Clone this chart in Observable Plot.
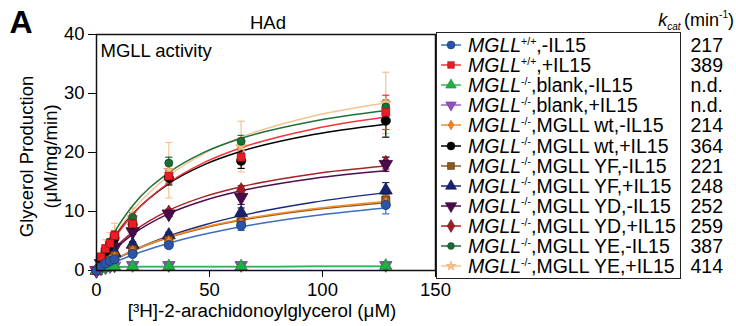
<!DOCTYPE html>
<html><head><meta charset="utf-8">
<script src="https://cdn.jsdelivr.net/npm/d3@7"></script>
<script src="https://cdn.jsdelivr.net/npm/@observablehq/plot@0.6"></script>
<style>
body{margin:0;background:#fff;}
#wrap{position:relative;width:736px;height:326px;font-family:"Liberation Sans",Arial,sans-serif;color:#000;overflow:hidden;background:#fff}
#wrap svg.plot{position:absolute;left:0;top:0}
.t{position:absolute;white-space:nowrap;font-size:19.5px;line-height:20px;height:20px}
.t i{font-style:italic}
.sup{font-size:10.5px;position:relative;top:-7.5px}
.sub{font-size:10.5px;position:relative;top:4px}
#hdr{font-size:18px}
#hdr .sub,#hdr .sup{font-size:10px}
#box{position:absolute;left:436px;top:32px;width:243px;height:245px;border:1.5px solid #222;border-right-width:1.2px;box-sizing:content-box}
</style></head><body><div id="wrap"></div>
<script>
// substrate concentrations (µM) of the measured points
const X = [0, 2, 4, 6, 8, 16, 32, 64, 128];
// x positions at which the fitted curves were read
const XF = [0, 4, 8, 16, 32, 48, 64, 96, 128];

const genotype = ["+/+", "+/+", "-/-", "-/-", "-/-", "-/-", "-/-", "-/-", "-/-", "-/-", "-/-", "-/-"];
const condition = [",-IL15", ",+IL15", ",blank,-IL15", ",blank,+IL15", ",MGLL wt,-IL15", ",MGLL wt,+IL15",
  ",MGLL YF,-IL15", ",MGLL YF,+IL15", ",MGLL YD,-IL15", ",MGLL YD,+IL15", ",MGLL YE,-IL15", ",MGLL YE,+IL15"];
const kcat = ["217", "389", "n.d.", "n.d.", "214", "364", "221", "248", "252", "259", "387", "414"];

// means, error bars, fitted curves
const mean1 = [0, 0.6, 1.2, 1.6, 1.9, 2.8, 4.3, 7.6, 11.1];
const sd1   = [0.1, 0.2, 0.2, 0.2, 0.3, 0.4, 0.5, 0.8, 1.5];
const fit1  = [0, 0.74, 1.42, 2.64, 4.62, 6.17, 7.4, 9.29, 10.6];
const mean2 = [0, 2.3, 3.7, 4.6, 5.9, 7.9, 16.0, 19.2, 26.8];
const sd2   = [0.2, 0.4, 0.6, 0.6, 0.8, 0.9, 1.2, 1.2, 2.9];
const fit2  = [0, 2.97, 5.47, 9.46, 14.87, 18.36, 20.8, 24.0, 26.0];
const mean3 = [0, 0.3, 0.5, 0.6, 0.7, 0.7, 0.7, 0.7, 0.8];
const sd3   = [0.1, 0.1, 0.1, 0.1, 0.1, 0.1, 0.1, 0.1, 0.1];
const fit3  = [0, 0.45, 0.6, 0.62, 0.64, 0.65, 0.65, 0.66, 0.66];
const mean4 = [0, 0.3, 0.5, 0.7, 0.8, 0.9, 0.9, 0.9, 0.9];
const sd4   = [0.2, 0.2, 0.2, 0.2, 0.2, 0.2, 0.2, 0.2, 0.2];
const fit4  = [0, 0.5, 0.62, 0.66, 0.68, 0.69, 0.69, 0.7, 0.7];
const mean5 = [0, 0.6, 1.2, 1.8, 2.3, 3.3, 5.0, 8.0, 11.6];
const sd5   = [0.1, 0.2, 0.3, 0.3, 0.3, 0.4, 0.5, 0.7, 1.0];
const fit5  = [0, 0.98, 1.86, 3.37, 5.68, 7.37, 8.65, 10.47, 11.7];
const mean6 = [0, 2.0, 3.3, 4.4, 5.5, 7.8, 15.7, 18.6, 25.4];
const sd6   = [0.2, 0.3, 0.5, 0.5, 0.6, 0.8, 1.2, 1.3, 2.8];
const fit6  = [0, 3.08, 5.62, 9.56, 14.74, 17.98, 20.2, 23.05, 24.8];
const mean7 = [0, 0.6, 1.3, 1.9, 2.5, 3.5, 5.1, 8.2, 11.9];
const sd7   = [0.1, 0.2, 0.3, 0.3, 0.4, 0.5, 0.5, 0.8, 1.0];
const fit7  = [0, 0.95, 1.83, 3.31, 5.59, 7.25, 8.5, 10.3, 11.5];
const mean8 = [0, 0.8, 1.6, 2.3, 3.0, 4.4, 6.0, 9.8, 13.6];
const sd8   = [0.1, 0.2, 0.3, 0.3, 0.4, 0.5, 0.5, 0.8, 1.3];
const fit8  = [0, 0.94, 1.81, 3.35, 5.84, 7.76, 9.3, 11.57, 13.2];
const mean9 = [0, 1.2, 2.2, 3.1, 3.9, 6.6, 9.6, 12.4, 18.0];
const sd9   = [0.1, 0.3, 0.4, 0.4, 0.5, 0.5, 0.5, 1.2, 1.2];
const fit9  = [0, 1.92, 3.54, 6.12, 9.63, 11.9, 13.5, 15.6, 16.9];
const mean10 = [0, 1.4, 2.5, 3.4, 4.3, 7.0, 9.8, 13.6, 18.2];
const sd10   = [0.1, 0.3, 0.4, 0.4, 0.5, 0.5, 0.6, 0.8, 1.0];
const fit10  = [0, 2.05, 3.78, 6.5, 10.19, 12.56, 14.2, 16.37, 17.7];
const mean11 = [0, 2.1, 3.6, 4.8, 6.0, 9.0, 18.2, 21.9, 27.7];
const sd11   = [0.2, 0.4, 0.5, 0.6, 0.7, 0.8, 1.0, 1.0, 1.2];
const fit11  = [0, 3.61, 6.53, 10.98, 16.6, 20.1, 22.4, 25.3, 27.1];
const mean12 = [0, 2.0, 3.5, 4.6, 5.8, 9.0, 17.0, 21.0, 28.4];
const sd12   = [0.3, 1.0, 1.7, 1.8, 2.2, 1.6, 4.7, 4.3, 5.2];
const fit12  = [0, 3.18, 5.87, 10.17, 16.06, 19.9, 22.6, 26.2, 28.4];

const yTicks = [0, 10, 20, 30, 40];
const xTicks = [0, 50, 100, 150];

// styles
const lineColors = ["#3d6cc2", "#f2353a", "#35b45a", "#9c62c8", "#f58c2e", "#000000", "#8d5c26", "#1c2878", "#4f0d50", "#a52329", "#1d7039", "#f6c390"];
const fillColors = ["#2b55a8", "#ec1c24", "#22ad45", "#9150bb", "#f5801a", "#000000", "#8b5a22", "#19226f", "#4b0a4b", "#a01c24", "#1c6e36", "#f7c08a"];
const edgeColors = ["#17366e", "#b01018", "#1a8a36", "#6e3a90", "#c86010", "#000000", "#5e3a14", "#0e1448", "#2f0530", "#701418", "#0f4a22", "#e8a060"];

const triDown = {draw(ctx, size) {
  const y = -Math.sqrt(size / (Math.sqrt(3) * 3));
  ctx.moveTo(0, -2 * y); ctx.lineTo(-Math.sqrt(3) * y, y); ctx.lineTo(Math.sqrt(3) * y, y); ctx.closePath();
}};
const capSym = {draw(ctx, size) {
  const r = Math.sqrt(size / Math.PI);
  ctx.moveTo(-r, 0); ctx.lineTo(r, 0);
}};
const symbols = [d3.symbolCircle, d3.symbolSquare, d3.symbolTriangle, triDown, d3.symbolDiamond, d3.symbolCircle,
  d3.symbolSquare, d3.symbolTriangle, triDown, d3.symbolDiamond, d3.symbolCircle, d3.symbolStar];
const symR = [4.6, 4.4, 4.6, 4.6, 3.4, 4.6, 4.6, 4.8, 5.0, 4.6, 4.0, 3.4];

const means = [mean1, mean2, mean3, mean4, mean5, mean6, mean7, mean8, mean9, mean10, mean11, mean12];
const sds = [sd1, sd2, sd3, sd4, sd5, sd6, sd7, sd8, sd9, sd10, sd11, sd12];
const fits = [fit1, fit2, fit3, fit4, fit5, fit6, fit7, fit8, fit9, fit10, fit11, fit12];

const pts = [], fitRows = [];
means.forEach((m, s) => m.forEach((v, j) => pts.push({s, x: X[j], y: v, e: sds[s][j]})));
fits.forEach((f, s) => f.forEach((v, j) => fitRows.push({s, x: XF[j], y: v})));

const order = d3.range(12).reverse();
const marks = [];
for (const s of order) {
  const p = pts.filter(d => d.s === s);
  marks.push(Plot.ruleX(p, {x: "x", y1: d => d.y - d.e, y2: d => d.y + d.e, stroke: lineColors[s], strokeWidth: 1.2}));
  marks.push(Plot.dot(p, {x: "x", y: d => d.y + d.e, symbol: capSym, r: 3.6, stroke: lineColors[s], fill: "none", strokeWidth: 1.2}));
  marks.push(Plot.dot(p, {x: "x", y: d => d.y - d.e, symbol: capSym, r: 3.6, stroke: lineColors[s], fill: "none", strokeWidth: 1.2}));
}
for (const s of order) {
  marks.push(Plot.line(fitRows.filter(d => d.s === s), {x: "x", y: "y", curve: "monotone-x", stroke: lineColors[s], strokeWidth: 1.5}));
}
for (const s of order) {
  marks.push(Plot.dot(pts.filter(d => d.s === s), {x: "x", y: "y", symbol: symbols[s], r: symR[s], fill: fillColors[s], stroke: edgeColors[s], strokeWidth: 0.8}));
}
marks.push(Plot.frame({stroke: "#111", strokeWidth: 1.5}));
marks.push(Plot.text(["HAd"], {frameAnchor: "top", dx: 2, dy: -11, lineAnchor: "middle", fontSize: 18.5}));
marks.push(Plot.text(["MGLL activity"], {frameAnchor: "top-left", dx: 4, dy: 17, textAnchor: "start", lineAnchor: "middle", fontSize: 18.5}));
marks.push(Plot.text(["[³H]-2-arachidonoylglycerol (μM)"], {frameAnchor: "bottom", dx: -4, dy: 40, lineAnchor: "middle", fontSize: 18.8}));
marks.push(Plot.text(["Glycerol Production\n(μM/mg/min)"], {frameAnchor: "left", rotate: -90, dx: -59.5, dy: 4, textAnchor: "middle", lineAnchor: "middle", lineHeight: 1.35, fontSize: 18.5}));
marks.push(Plot.text(["A"], {frameAnchor: "top-left", dx: -87, dy: -12, textAnchor: "start", lineAnchor: "middle", fontSize: 32, fontWeight: "bold"}));

const chart = Plot.plot({
  width: 736, height: 326,
  marginLeft: 96, marginRight: 301, marginTop: 34, marginBottom: 56,
  style: {fontSize: "18.5px", fontFamily: "Liberation Sans, Arial, sans-serif", color: "#000", background: "transparent", overflow: "visible"},
  x: {domain: [0, 150], ticks: xTicks, tickSize: 7, tickPadding: 5, label: null},
  y: {domain: [0, 40], ticks: yTicks, tickSize: 8, tickPadding: 4, label: null},
  marks
});
chart.classList.add("plot");
const wrap = document.getElementById("wrap");
wrap.appendChild(chart);

// legend
const box = document.createElement("div"); box.id = "box"; wrap.appendChild(box);
const hdr = document.createElement("div"); hdr.className = "t"; hdr.id = "hdr";
hdr.style.right = "2px"; hdr.style.top = "9.5px";
hdr.innerHTML = '<i>k</i><span class="sub"><i>cat</i></span>&thinsp;(min<span class="sup">-1</span>)';
wrap.appendChild(hdr);
for (let i = 0; i < 12; i++) {
  const cy = 45 + 20.12 * i;
  const sv = d3.create("svg").attr("width", 26).attr("height", 20)
    .style("position", "absolute").style("left", "439px").style("top", (cy - 10) + "px");
  sv.append("line").attr("x1", 2).attr("x2", 22).attr("y1", 10).attr("y2", 10).attr("stroke", lineColors[i]).attr("stroke-width", 1.5);
  const sz = Math.PI * Math.pow(symR[i] * 0.85, 2);
  sv.append("path").attr("transform", "translate(12,10)").attr("d", d3.symbol(symbols[i], sz)())
    .attr("fill", fillColors[i]).attr("stroke", edgeColors[i]).attr("stroke-width", 0.6);
  wrap.appendChild(sv.node());
  const t = document.createElement("div"); t.className = "t";
  t.style.left = "468px"; t.style.top = (cy - 10) + "px";
  t.innerHTML = '<i>MGLL</i><span class="sup">' + genotype[i] + '</span>' + condition[i];
  wrap.appendChild(t);
  const k = document.createElement("div"); k.className = "t";
  k.style.right = "13px"; k.style.top = (cy - 10) + "px"; k.style.textAlign = "right";
  k.textContent = kcat[i];
  wrap.appendChild(k);
}
</script></body></html>
